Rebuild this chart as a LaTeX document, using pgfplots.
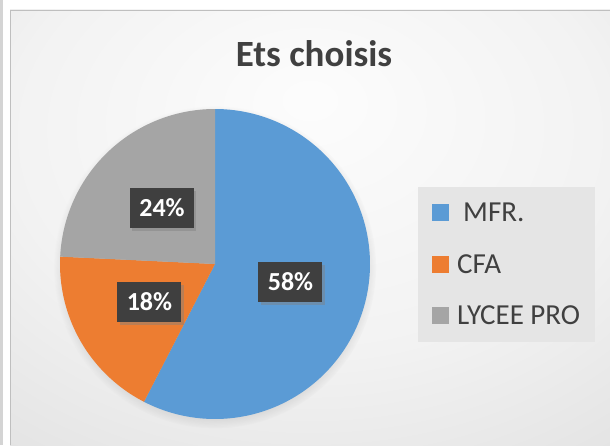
\documentclass[border=0pt]{standalone}
\usepackage{fontspec}
\setmainfont{Carlito}
\usepackage{pgfplots}
\pgfplotsset{compat=1.18}
\usepackage{pgfplotstable}
\usetikzlibrary{shadows,fadings}
\definecolor{mfr}{HTML}{5B9BD5}
\definecolor{cfa}{HTML}{ED7D31}
\definecolor{lyc}{HTML}{A5A5A5}
\definecolor{txt}{HTML}{404040}
\definecolor{lbl}{HTML}{3F3F3F}
\pgfdeclareradialshading{chartbg}{\pgfpoint{0bp}{15bp}}{color(0bp)=(white!99!black); color(25bp)=(white!95!black); color(50bp)=(white!86.5!black); color(65bp)=(white!81!black); color(85bp)=(white!76!black)}
\tikzset{lblbox/.style={fill=lbl, text=white, font=\fontsize{26pt}{30pt}\selectfont\bfseries,
    minimum width=64pt, minimum height=40pt, inner sep=0pt,
    drop shadow={opacity=0.45, shadow xshift=2.5pt, shadow yshift=-3pt}}}
\pgfplotstableread{
name value
MFR 19
CFA 6
LYCEE 8
}\piedata
\begin{document}
\begin{tikzpicture}
\pgfplotstablegetelem{0}{value}\of\piedata \let\va\pgfplotsretval
\pgfplotstablegetelem{1}{value}\of\piedata \let\vb\pgfplotsretval
\pgfplotstablegetelem{2}{value}\of\piedata \let\vc\pgfplotsretval
\pgfmathsetmacro\total{\va+\vb+\vc}
\pgfmathsetmacro\aA{90-360*\va/\total}
\pgfmathsetmacro\aB{\aA-360*\vb/\total}
\pgfmathsetmacro\aC{\aB-360*\vc/\total}
\useasboundingbox (0,0) rectangle (610pt,445pt);
\fill[white] (0,0) rectangle (610pt,445pt);
\fill[black!17] (0,0) rectangle (3pt,445pt);
\shade[shading=chartbg] (10pt,0) rectangle (610pt,435pt);
\draw[black!25, line width=0.8pt] (10.4pt,0) -- (10.4pt,434.6pt) -- (610pt,434.6pt);
% pie shadow
\path[circular drop shadow={opacity=0.4, shadow xshift=0pt, shadow yshift=-3pt, shadow scale=1.04}] (215pt,181pt) circle (155pt);
\begin{axis}[at={(215pt,181pt)}, anchor=center, width=310pt, height=310pt,
  scale only axis, hide axis, xmin=-1, xmax=1, ymin=-1, ymax=1, clip=false]
\addplot[fill=mfr, draw=none, domain=\aA:90, samples=150] ({cos(x)},{sin(x)}) -- (0,0) -- cycle;
\addplot[fill=cfa, draw=none, domain=\aB:\aA, samples=60] ({cos(x)},{sin(x)}) -- (0,0) -- cycle;
\addplot[fill=lyc, draw=none, domain=\aC:\aB, samples=80] ({cos(x)},{sin(x)}) -- (0,0) -- cycle;
\node[lblbox] at (axis cs:0.487,-0.116) {58\%};
\node[lblbox] at (axis cs:-0.423,-0.245) {18\%};
\node[lblbox] at (axis cs:-0.342,0.361) {24\%};
\end{axis}
% title
\node[anchor=base, inner sep=0pt, text=txt, font=\fontsize{37pt}{42pt}\selectfont\bfseries] at (314pt,378pt) {Ets choisis};
% legend
\fill[white!90!black] (418pt,103pt) rectangle (595pt,258pt);
\fill[mfr] (432pt,224pt) rectangle (449pt,241pt);
\fill[cfa] (432pt,172pt) rectangle (449pt,189pt);
\fill[lyc] (432pt,121pt) rectangle (449pt,138pt);
\begin{scope}[every node/.style={anchor=base west, inner sep=0pt, text=txt, font=\fontsize{29pt}{33pt}\selectfont}]
\node at (457pt,223.5pt) {\hspace{6pt}MFR.};
\node at (457pt,171.5pt) {CFA};
\node at (457pt,120.5pt) {LYCEE PRO};
\end{scope}
\end{tikzpicture}
\end{document}
